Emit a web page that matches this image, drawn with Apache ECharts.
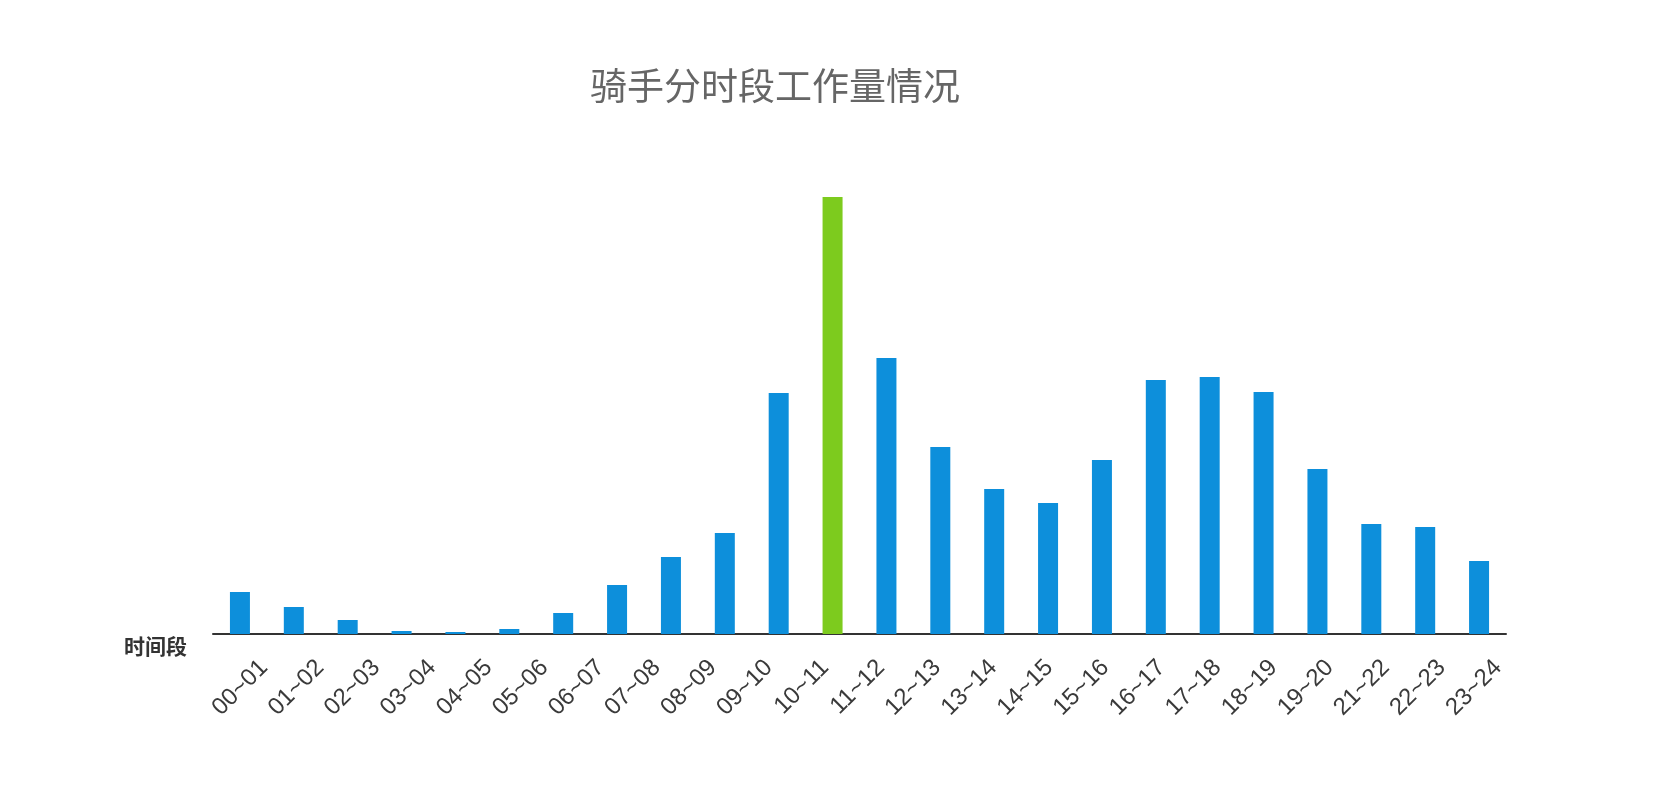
<!DOCTYPE html>
<html>
<head>
<meta charset="utf-8">
<title>骑手分时段工作量情况</title>
<script src="https://cdn.jsdelivr.net/npm/echarts@6/dist/echarts.min.js"></script>
<style>
    html, body { margin: 0; padding: 0; background: #fff; }
    #container { width: 1656px; height: 788px; }
</style>
</head>
<body>
<div id="container"></div>
<script type="text/javascript">
// 24 hourly slots carry the bars
var slots = ['00~01', '01~02', '02~03', '03~04', '04~05', '05~06', '06~07', '07~08',
    '08~09', '09~10', '10~11', '11~12', '12~13', '13~14', '14~15', '15~16',
    '16~17', '17~18', '18~19', '19~20', '20~21', '21~22', '22~23', '23~24'];
// values
var workload = [42, 27, 14, 3, 2, 5, 21, 49, 77, 101, 241, 437,
    276, 187, 145, 131, 174, 254, 257, 242, 165, 110, 107, 73];
// the tick labels as printed under the axis (20~21 is missing in the original)
var tickLabels = ['00~01', '01~02', '02~03', '03~04', '04~05', '05~06', '06~07', '07~08',
    '08~09', '09~10', '10~11', '11~12', '12~13', '13~14', '14~15', '15~16',
    '16~17', '17~18', '18~19', '19~20', '21~22', '22~23', '23~24'];
var peakIndex = 11;

var dom = document.getElementById('container');
var myChart = echarts.init(dom);

function barData(values) {
    var out = [];
    for (var i = 0; i < values.length; i++) {
        out.push({
            value: values[i],
            itemStyle: { color: i === peakIndex ? '#7dcb1e' : '#0d8fdb' }
        });
    }
    return out;
}

var option = {
    backgroundColor: '#fff',
    animation: false,
    title: {
        text: '骑手分时段工作量情况',
        left: 585,
        top: 62,
        textStyle: {
            fontFamily: 'Noto Sans CJK SC',
            fontSize: 37,
            fontWeight: 'normal',
            color: '#666'
        }
    },
    grid: [
        { left: 213, right: 150, top: 197, bottom: 154 },
        { left: 236, right: 130, top: 197, bottom: 154 }
    ],
    xAxis: [
        {
            type: 'category',
            gridIndex: 0,
            data: slots,
            name: '时间段',
            nameLocation: 'start',
            nameGap: 26,
            nameTextStyle: {
                fontFamily: 'Noto Sans CJK SC',
                fontSize: 21,
                fontWeight: 'bold',
                color: '#333',
                verticalAlign: 'top',
                padding: [2, 0, 0, 0]
            },
            axisLine: { lineStyle: { color: '#333', width: 2 } },
            axisTick: { show: false },
            axisLabel: { show: false }
        },
        {
            type: 'category',
            gridIndex: 1,
            data: tickLabels,
            axisLine: { show: false },
            axisTick: { show: false },
            axisLabel: {
                rotate: 45,
                margin: 30,
                fontFamily: 'Liberation Sans',
                fontSize: 24,
                color: '#3a3a3a'
            }
        }
    ],
    yAxis: [
        { type: 'value', gridIndex: 0, min: 0, max: 437, show: false },
        { type: 'value', gridIndex: 1, min: 0, max: 437, show: false }
    ],
    series: [
        {
            name: '工作量',
            type: 'bar',
            xAxisIndex: 0,
            yAxisIndex: 0,
            barWidth: 20,
            data: barData(workload)
        }
    ]
};

myChart.setOption(option);
</script>
</body>
</html>
